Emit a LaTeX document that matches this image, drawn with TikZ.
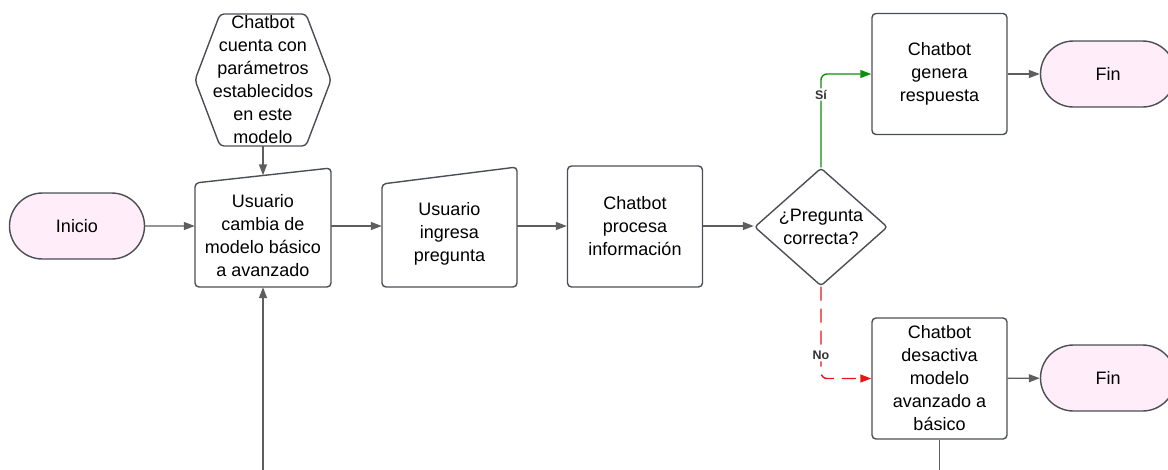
\documentclass[tikz,border=0pt]{standalone}
\usepackage{fontspec}
\setmainfont{Liberation Sans}
\usetikzlibrary{arrows.meta,shapes.geometric,shapes.misc}

\definecolor{edgegray}{RGB}{75,78,84}
\definecolor{wiregray}{RGB}{94,94,94}
\definecolor{yesgreen}{RGB}{10,145,10}
\definecolor{nored}{RGB}{232,22,22}
\definecolor{termpink}{RGB}{255,237,250}

\tikzset{
  base/.style={font=\fontsize{18}{23}\selectfont, align=center, inner sep=0pt},
  term/.style={base, rounded rectangle, draw=edgegray, line width=1.4pt, fill=termpink,
    minimum width=135, minimum height=66},
  proc/.style={base, rectangle, rounded corners=4, draw=edgegray, line width=1.4pt,
    minimum width=135, minimum height=121},
  decision/.style={base, diamond, aspect=1.127, inner sep=1pt, rounded corners=3,
    draw=edgegray, line width=1.4pt, minimum width=133, minimum height=118},
  slantbox/.style={draw=edgegray, line width=1.4pt, rounded corners=4},
  flow/.style={draw=wiregray, line width=1.4pt, -{Triangle[length=11pt,width=8pt]}},
  branch/.style={line width=1.4pt, rounded corners=6, -{Triangle[length=11pt,width=8pt]}},
  tag/.style={font=\bfseries\fontsize{12.5}{14}\selectfont, text=black!80, fill=white,
    inner sep=1.5pt}
}

\begin{document}
\begin{tikzpicture}[x=1pt, y=-1pt]
  \useasboundingbox (0,0) rectangle (1168,469);
  \clip (0,0) rectangle (1168,469);

  \node[term] (inicio) at (77,226) {Inicio};
  \node[term] (fin1) at (1108,74) {Fin};
  \node[term] (fin2) at (1108,378) {Fin};

  % hexagono
  \node[base, minimum width=86, minimum height=132] (param) at (263,80)
    {Chatbot\\cuenta con\\parámetros\\establecidos\\en este\\modelo};
  \draw[slantbox] ([shift={(-43,-66)}]param.center) -- ([shift={(43,-66)}]param.center)
    -- ([shift={(68,0)}]param.center) -- ([shift={(43,66)}]param.center)
    -- ([shift={(-43,66)}]param.center) -- ([shift={(-68,0)}]param.center) -- cycle;

  % entradas manuales
  \node[base, minimum width=136, minimum height=102] (cambia) at (263,236)
    {Usuario\\cambia de\\modelo básico\\a avanzado};
  \draw[slantbox] ([shift={(-68,-53)}]cambia.center) -- ([shift={(68,-68)}]cambia.center)
    -- ([shift={(68,51)}]cambia.center) -- ([shift={(-68,51)}]cambia.center) -- cycle;
  \node[base, minimum width=135, minimum height=106] (ingresa) at (449.5,234)
    {Usuario\\ingresa\\pregunta};
  \draw[slantbox] ([shift={(-67.5,-50)}]ingresa.center) -- ([shift={(67.5,-67)}]ingresa.center)
    -- ([shift={(67.5,53)}]ingresa.center) -- ([shift={(-67.5,53)}]ingresa.center) -- cycle;

  \node[proc] (procesa) at (635,226.5) {Chatbot\\procesa\\información};
  \node[decision] (pregunta) at (821,227) {¿Pregunta\\correcta?};
  \node[proc] (genera) at (939.5,74) {Chatbot\\genera\\respuesta};
  \node[proc] (desactiva) at (939.5,378.5) {Chatbot\\desactiva\\modelo\\avanzado a\\básico};

  \coordinate (salida) at (939.5,480);
  \coordinate (retorno) at (263,480);

  \draw[flow] (inicio) -- (inicio -| cambia.west);
  \draw[flow] (param.south) -- ([yshift=9.5pt]cambia.north);
  \draw[flow] (cambia.east |- inicio) -- (ingresa.west |- inicio);
  \draw[flow] (ingresa.east |- inicio) -- (procesa.west |- inicio);
  \draw[flow] (procesa.east |- inicio) -- (pregunta.west |- inicio);
  \draw[branch, yesgreen] (pregunta.north) |- (genera.west) node[tag, pos=0.39] {Sí};
  \draw[branch, nored, dash pattern=on 14pt off 8pt] (pregunta.south) |- (desactiva.west)
    node[tag, pos=0.375] {No};
  \draw[flow] (genera) -- (fin1);
  \draw[flow] (desactiva) -- (fin2);
  \draw[draw=wiregray, line width=1.4pt] (desactiva.south) -- (salida);
  \draw[flow] (retorno) -- (cambia.south);
\end{tikzpicture}
\end{document}
